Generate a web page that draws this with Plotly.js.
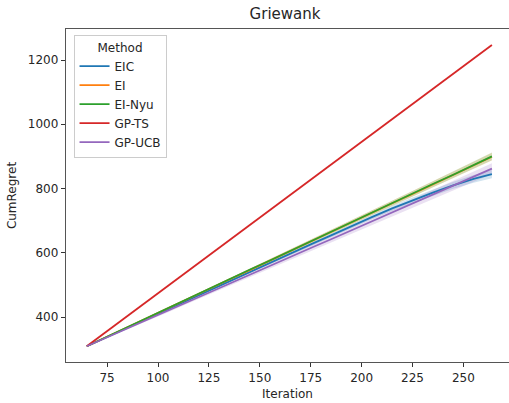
<!DOCTYPE html>
<html>
<head>
<meta charset="utf-8">
<script src="https://cdn.plot.ly/plotly-3.0.1.min.js"></script>
<style>html,body{margin:0;padding:0;background:#fff;}#chart{width:509px;height:403px;}</style>
</head>
<body>
<div id="chart"></div>
<script>
const iterations = [65,75,85,95,105,115,125,135,145,155,165,175,185,195,205,215,225,235,245,255,264];
const methods = ["EIC","EI","EI-Nyu","GP-TS","GP-UCB"];
const colors = ["#1f77b4","#ff7f0e","#2ca02c","#d62728","#9467bd"];
const fills = ["rgba(31,119,180,0.2)","rgba(255,127,14,0.2)","rgba(44,160,44,0.2)","rgba(214,39,40,0.2)","rgba(148,103,189,0.2)"];

const eic    = [309,338,367,396,425,454,483,512,540,569,597,626,654,683,711,738,763,787,810,830,845];
const ei     = [309,339,368,398,428,458,487,517,546,576,606,635,665,695,724,754,783,813,843,872,899];
const eiNyu  = [309,339,368,398,428,457,487,517,547,576,606,636,665,695,725,754,784,814,843,873,900];
const gpTs   = [309,356,403,450,497,545,592,639,686,733,780,827,874,921,968,1016,1063,1110,1157,1204,1247];
const gpUcb  = [309,337,365,392,420,448,476,504,531,559,587,615,642,670,698,726,754,781,809,837,862];

const eicSpread   = [0,1,2,2,3,3,3,4,4,4,5,5,6,6,7,8,9,10,11,12,13];
const eiSpread    = [0,1,2,2,3,3,3,4,4,5,5,6,6,7,7,8,8,9,10,11,12];
const eiNyuSpread = [0,1,2,2,3,3,3,4,4,5,5,6,6,7,7,8,8,9,10,11,12];
const gpTsSpread  = [0,0,0,0,0,1,1,1,1,1,1,1,1,1,1,1,1,1,1,1,1];
const gpUcbSpread = [0,2,3,4,5,5,6,7,7,8,9,9,10,11,11,12,13,14,15,16,17];

const series = [eic, ei, eiNyu, gpTs, gpUcb];
const spreads = [eicSpread, eiSpread, eiNyuSpread, gpTsSpread, gpUcbSpread];

const traces = [];
series.forEach((ys, i) => {
  const sp = spreads[i];
  traces.push({x: iterations, y: ys.map((v,k)=>v+sp[k]), mode:'lines', line:{width:0}, showlegend:false, hoverinfo:'skip'});
  traces.push({x: iterations, y: ys.map((v,k)=>v-sp[k]), mode:'lines', line:{width:0}, fill:'tonexty', fillcolor: fills[i], showlegend:false, hoverinfo:'skip'});
});
series.forEach((ys, i) => {
  traces.push({x: iterations, y: ys, mode:'lines', name: methods[i], line:{color: colors[i], width:1.8}});
});

const font = {family:'DejaVu Sans', size:12, color:'#262626'};
const layout = {
  width:509, height:403,
  margin:{l:65.5, r:0, t:29, b:41.3},
  paper_bgcolor:'#fff', plot_bgcolor:'#fff',
  font: font,
  title:{text:'Griewank', font:{family:'DejaVu Sans', size:15, color:'#262626'}, x:0.56, xanchor:'center', y:0.965, yanchor:'middle'},
  xaxis:{range:[54.8,272.4], tickvals:[75,100,125,150,175,200,225,250], showgrid:false, zeroline:false,
    showline:true, linecolor:'#555', linewidth:1.2, mirror:true, ticks:'outside', ticklen:4, tickcolor:'#333',
    title:{text:'Iteration', font:font, standoff:6}},
  yaxis:{range:[260,1296.6], tickvals:[400,600,800,1000,1200], showgrid:false, zeroline:false,
    showline:true, linecolor:'#555', linewidth:1.2, ticks:'outside', ticklen:4, tickcolor:'#333',
    title:{text:'CumRegret', font:font, standoff:8}},
  legend:{x:0.017, y:0.982, xanchor:'left', yanchor:'top', bgcolor:'rgba(255,255,255,0.8)', bordercolor:'#ccc', borderwidth:1,
    traceorder:'normal',
    title:{text:'Method', side:'top center', font:font}, font:font, tracegroupgap:0}
};
Plotly.newPlot('chart', traces, layout, {staticPlot:true, displayModeBar:false});
</script>
</body>
</html>
